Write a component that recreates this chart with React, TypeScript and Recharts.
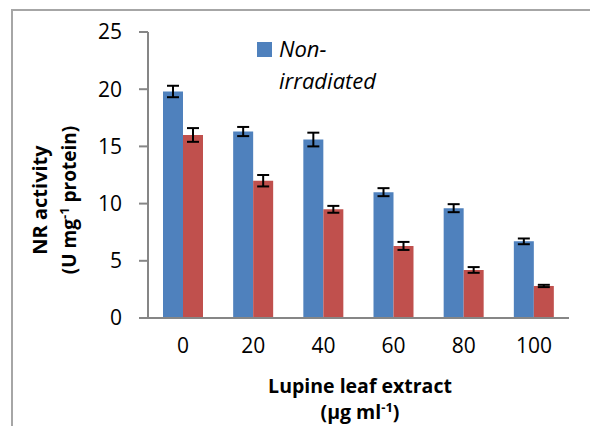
import React from 'react';
import { BarChart, Bar, XAxis, YAxis, ErrorBar, Label } from 'recharts';

const doses = ['0', '20', '40', '60', '80', '100'];
const nonIrradiated = [19.8, 16.3, 15.6, 11.0, 9.6, 6.7];
const nonIrradiatedErr = [0.5, 0.4, 0.6, 0.35, 0.35, 0.25];
const irradiated = [16.0, 12.0, 9.5, 6.3, 4.2, 2.8];
const irradiatedErr = [0.6, 0.5, 0.3, 0.35, 0.25, 0.1];
const yTicks = [0, 5, 10, 15, 20, 25];

const data = doses.map((d, i) => ({
  dose: d,
  non: nonIrradiated[i],
  nonErr: nonIrradiatedErr[i],
  irr: irradiated[i],
  irrErr: irradiatedErr[i],
}));

const FONT = '"Open Sans", "Liberation Sans", sans-serif';
const AXIS = '#868686';

// legend only shows the first series, like the cropped original
const LegendBox = () => (
  <div style={{ position: 'absolute', left: 249, top: 34, fontFamily: FONT, fontStyle: 'italic', fontSize: 22, color: '#000' }}>
    <div style={{ position: 'absolute', left: 0, top: 0, width: 15, height: 15, background: '#4F81BD' }} />
    <div style={{ position: 'absolute', left: 22, top: -10, lineHeight: '32px', whiteSpace: 'nowrap' }}>
      Non-<br />irradiated
    </div>
  </div>
);

const YTitle = (props: any) => {
  const cy = 192;
  return (
    <g fontFamily={FONT} fontWeight="bold" fill="#000">
      <text x={39} y={cy} fontSize={20} textAnchor="middle" transform={`rotate(-90, 39, ${cy})`}>NR activity</text>
      <text x={68} y={cy} fontSize={19} textAnchor="middle" transform={`rotate(-90, 68, ${cy})`}>
        (U mg<tspan fontSize={13} dy={-7}>-1</tspan><tspan dy={7}> protein)</tspan>
      </text>
    </g>
  );
};

const XTitle = (props: any) => (
  <g fontFamily={FONT} fontWeight="bold" fontSize={19.5} fill="#000">
    <text x={352} y={385} textAnchor="middle">Lupine leaf extract</text>
    <text x={352} y={411} textAnchor="middle">
      (µg ml<tspan fontSize={13} dy={-7}>-1</tspan><tspan dy={7}>)</tspan>
    </text>
  </g>
);

export default function App() {
  return (
    <div style={{ position: 'relative', width: 590, height: 418, overflow: 'hidden', background: '#fff' }}>
      <div style={{ position: 'absolute', left: 3, top: 1, width: 700, height: 600, border: '2px solid #a6a6a6' }} />
      <div style={{ position: 'absolute', left: 0, top: 0 }}>
        <BarChart
          width={590}
          height={418}
          data={data}
          margin={{ top: 24, right: 29, bottom: 78, left: 80 }}
          barSize={20}
          barGap={0}
        >
          <XAxis
            dataKey="dose"
            height={30}
            stroke={AXIS}
            strokeWidth={2}
            tickLine={false}
            tickSize={0}
            tickMargin={20}
            tick={{ fill: '#000', fontSize: 21, fontFamily: FONT }}
          >
            <Label content={XTitle} />
          </XAxis>
          <YAxis
            width={60}
            domain={[0, 25]}
            ticks={yTicks}
            interval={0}
            stroke={AXIS}
            strokeWidth={2}
            tickSize={9}
            tickMargin={17}
            tick={{ fill: '#000', fontSize: 21, fontFamily: FONT }}
          >
            <Label content={YTitle} />
          </YAxis>
          <Bar dataKey="non" name="Non-irradiated" fill="#4F81BD" isAnimationActive={false}>
            <ErrorBar dataKey="nonErr" width={6} stroke="#000" strokeWidth={2} isAnimationActive={false} />
          </Bar>
          <Bar dataKey="irr" name="Irradiated" fill="#C0504D" isAnimationActive={false}>
            <ErrorBar dataKey="irrErr" width={6} stroke="#000" strokeWidth={2} isAnimationActive={false} />
          </Bar>
        </BarChart>
      </div>
      <LegendBox />
    </div>
  );
}
